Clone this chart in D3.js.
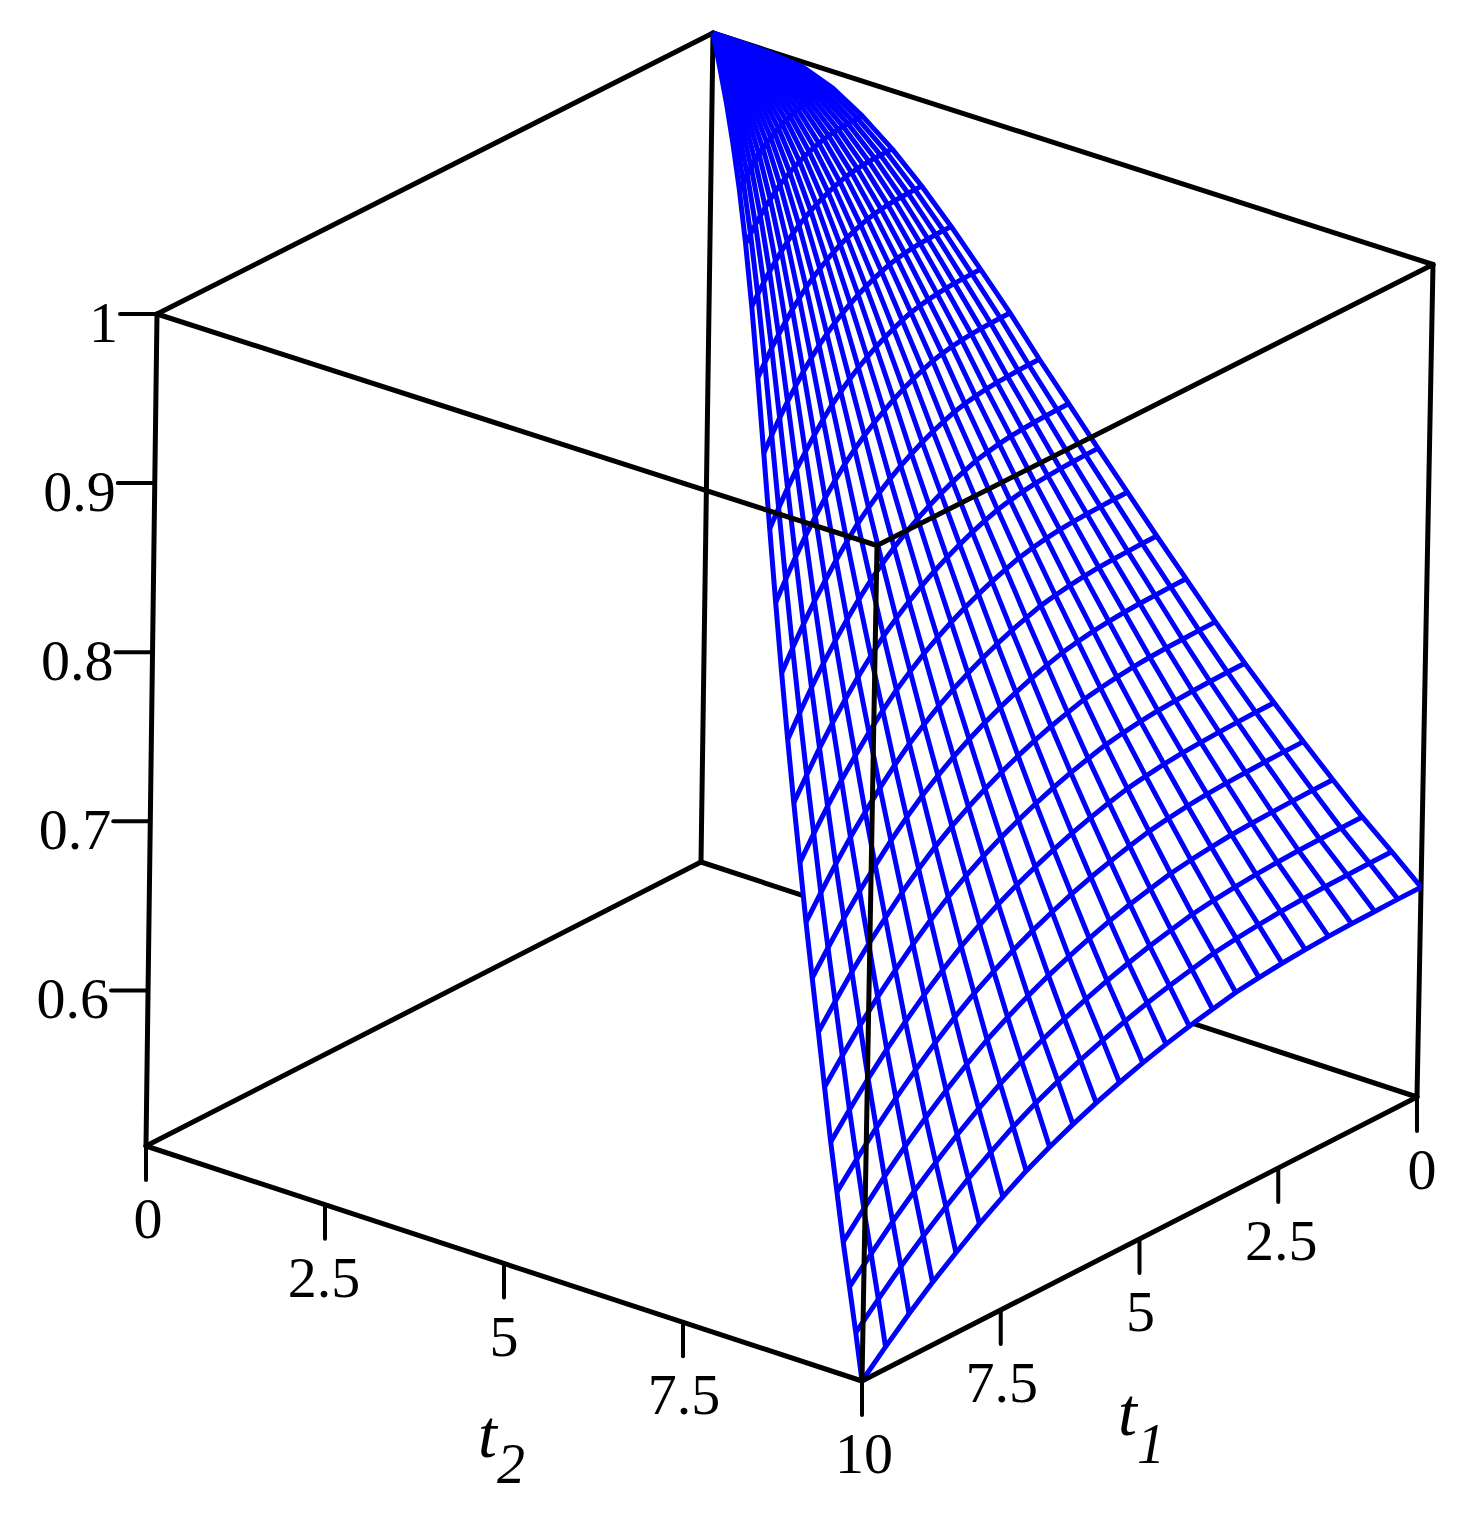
<!DOCTYPE html>
<html><head><meta charset="utf-8"><style>html,body{margin:0;background:#fff}svg{display:block}text{font-family:"Liberation Serif",serif;fill:#000}</style>
<script src="https://cdn.jsdelivr.net/npm/d3@7"></script></head><body><script>
// z values; rows run along t2 (0..10 in 24 steps), columns along t1/t2 (0..1 in 24 steps)
const surfaceZ=[
[1,1,1,1,1,1,1,1,1,1,1,1,1,1,1,1,1,1,1,1,1,1,1,1,1],
[.9998,.9998,.9998,.9998,.9997,.9997,.9996,.9995,.9994,.9993,.9991,.9989,.9986,.9984,.9981,.9977,.9974,.9970,.9965,.9959,.9954,.9948,.9941,.9934,.9926],
[.9990,.9990,.9990,.9989,.9989,.9988,.9986,.9985,.9982,.9979,.9975,.9971,.9966,.9961,.9955,.9948,.9940,.9932,.9922,.9911,.9900,.9887,.9873,.9859,.9843],
[.9970,.9970,.9969,.9969,.9968,.9966,.9964,.9961,.9957,.9952,.9946,.9939,.9931,.9922,.9912,.9901,.9889,.9875,.9859,.9841,.9822,.9801,.9779,.9755,.9729],
[.9902,.9902,.9901,.9900,.9899,.9897,.9894,.9890,.9885,.9878,.9870,.9861,.9850,.9838,.9825,.9810,.9794,.9776,.9754,.9731,.9705,.9678,.9648,.9616,.9582],
[.9793,.9793,.9792,.9791,.9789,.9786,.9783,.9778,.9772,.9762,.9752,.9740,.9727,.9712,.9695,.9676,.9655,.9632,.9605,.9575,.9542,.9507,.9469,.9428,.9385],
[.9656,.9655,.9654,.9653,.9651,.9648,.9643,.9637,.9629,.9617,.9604,.9589,.9572,.9553,.9532,.9508,.9481,.9452,.9417,.9379,.9338,.9294,.9246,.9194,.9139],
[.9493,.9492,.9491,.9489,.9487,.9483,.9477,.9469,.9459,.9444,.9428,.9409,.9388,.9364,.9337,.9307,.9274,.9237,.9193,.9146,.9094,.9039,.8978,.8913,.8844],
[.9311,.9310,.9309,.9306,.9303,.9298,.9291,.9282,.9270,.9252,.9232,.9209,.9184,.9154,.9122,.9086,.9045,.9000,.8947,.8890,.8827,.8760,.8687,.8607,.8524],
[.9114,.9113,.9111,.9109,.9105,.9099,.9091,.9080,.9067,.9046,.9023,.8997,.8967,.8933,.8896,.8854,.8806,.8755,.8694,.8627,.8554,.8477,.8392,.8300,.8204],
[.8913,.8912,.8910,.8907,.8903,.8897,.8888,.8875,.8860,.8837,.8811,.8782,.8748,.8710,.8668,.8622,.8569,.8510,.8442,.8368,.8286,.8200,.8105,.8002,.7894],
[.8696,.8695,.8693,.8689,.8685,.8679,.8669,.8656,.8639,.8614,.8587,.8555,.8519,.8479,.8434,.8384,.8327,.8265,.8191,.8112,.8024,.7932,.7830,.7720,.7604],
[.8490,.8489,.8487,.8483,.8478,.8472,.8461,.8447,.8430,.8404,.8375,.8341,.8303,.8261,.8214,.8161,.8101,.8035,.7958,.7874,.7782,.7684,.7576,.7460,.7338],
[.8283,.8282,.8279,.8276,.8271,.8264,.8253,.8239,.8221,.8194,.8164,.8129,.8090,.8046,.7997,.7942,.7880,.7813,.7733,.7646,.7551,.7449,.7339,.7218,.7092],
[.8081,.8080,.8077,.8074,.8069,.8062,.8051,.8036,.8018,.7990,.7959,.7924,.7884,.7839,.7789,.7734,.7670,.7601,.7520,.7431,.7334,.7230,.7118,.6995,.6866],
[.7879,.7878,.7875,.7872,.7867,.7859,.7848,.7833,.7815,.7786,.7755,.7719,.7678,.7632,.7582,.7525,.7460,.7390,.7307,.7216,.7117,.7012,.6896,.6771,.6640],
[.7683,.7682,.7679,.7676,.7671,.7663,.7652,.7637,.7618,.7590,.7558,.7522,.7481,.7435,.7384,.7327,.7262,.7191,.7108,.7017,.6917,.6811,.6696,.6570,.6438],
[.7486,.7485,.7482,.7479,.7474,.7466,.7455,.7440,.7422,.7393,.7362,.7326,.7285,.7239,.7188,.7131,.7067,.6996,.6913,.6823,.6723,.6618,.6503,.6377,.6246],
[.7299,.7298,.7295,.7291,.7286,.7279,.7268,.7253,.7234,.7205,.7174,.7138,.7096,.7050,.6999,.6941,.6876,.6805,.6721,.6630,.6530,.6424,.6308,.6181,.6049],
[.7122,.7121,.7118,.7114,.7109,.7102,.7090,.7075,.7056,.7027,.6995,.6958,.6916,.6869,.6817,.6759,.6693,.6620,.6535,.6443,.6341,.6233,.6115,.5987,.5852],
[.6950,.6949,.6946,.6942,.6937,.6930,.6918,.6903,.6884,.6855,.6823,.6787,.6745,.6698,.6646,.6588,.6522,.6450,.6366,.6273,.6172,.6064,.5947,.5819,.5685],
[.6782,.6781,.6778,.6774,.6769,.6762,.6750,.6735,.6716,.6687,.6656,.6619,.6577,.6530,.6479,.6420,.6355,.6283,.6198,.6106,.6005,.5897,.5780,.5652,.5518],
[.6620,.6619,.6616,.6613,.6608,.6600,.6589,.6574,.6556,.6527,.6496,.6460,.6419,.6373,.6322,.6265,.6201,.6130,.6047,.5957,.5857,.5752,.5637,.5511,.5380],
[.6472,.6471,.6468,.6465,.6460,.6452,.6441,.6426,.6408,.6379,.6348,.6313,.6272,.6226,.6176,.6119,.6055,.5984,.5901,.5811,.5712,.5607,.5493,.5368,.5237],
[.6320,.6319,.6316,.6313,.6308,.6300,.6289,.6274,.6256,.6227,.6196,.6160,.6119,.6073,.6022,.5965,.5901,.5830,.5747,.5657,.5557,.5452,.5337,.5211,.5080]
];
const tTicks=[0,2.5,5,7.5,10];
const tTickLabels=["0","2.5","5","7.5","10"];
const zTicks=[.6,.7,.8,.9,1];
const zTickLabels=["0.6","0.7","0.8","0.9","1"];
const zDomain=[.508,1];
const tDomain=[0,10];

const W=1472,H=1518;
const svg=d3.select("body").append("svg").attr("width",W).attr("height",H);
const u=d3.scaleLinear(tDomain,[0,1]),v=d3.scaleLinear(tDomain,[0,1]),wS=d3.scaleLinear(zDomain,[0,1]);
function P(t1,t2,z){const a=u(t1),b=v(t2),c=wS(z);return [701-555*a+716*b+c*(12-a+4*b),862+284*a+235*b-c*(829+3*a+3.5*b)];}
const line=d3.line();
function seg(g0,p,q,w){g0.append("path").attr("d",line([p,q])).attr("fill","none").attr("stroke","#000").attr("stroke-width",w).attr("stroke-linecap","round");}
const [zlo,zhi]=zDomain;
const back=svg.append("g");
[[[0,0,zlo],[10,0,zlo]],[[0,0,zlo],[0,10,zlo]],[[0,0,zlo],[0,0,zhi]],[[0,0,zhi],[10,0,zhi]],[[0,0,zhi],[0,10,zhi]],[[10,0,zlo],[10,0,zhi]],[[0,10,zlo],[0,10,zhi]]].forEach(s=>seg(back,P(...s[0]),P(...s[1]),5));
const n=surfaceZ.length-1;
const pt=(a,b)=>{const t2=a*10/n,t1=t2*b/n;return P(t1,t2,surfaceZ[a][b]);};
const ii=d3.range(n+1),cc=d3.range(n);
const cells=cc.flatMap(i=>cc.map(j=>[pt(i,j),pt(i+1,j),pt(i+1,j+1),pt(i,j+1)]));
svg.append("g").selectAll("path").data(cells).join("path").attr("d",c=>line(c)+"Z").attr("fill","#fff").attr("stroke","#fff").attr("stroke-width",1);
const wires=[...ii.map(a=>ii.map(b=>pt(a,b))),...ii.map(b=>ii.map(a=>pt(a,b)))];
svg.append("g").selectAll("path").data(wires).join("path").attr("d",line).attr("fill","none").attr("stroke","#0000ff").attr("stroke-width",5).attr("stroke-linejoin","round");
const front=svg.append("g");
[[[10,0,zlo],[10,10,zlo]],[[10,10,zlo],[0,10,zlo]],[[10,0,zhi],[10,10,zhi]],[[10,10,zhi],[0,10,zhi]],[[10,10,zlo],[10,10,zhi]]].forEach(s=>seg(front,P(...s[0]),P(...s[1]),5));
const dxT2=[2,-1,0,1,2],dxT1=[5,3,1,1];
tTicks.forEach((t,k)=>{const p=P(10,t,zlo);seg(front,p,[p[0],p[1]+34],4);front.append("text").attr("x",p[0]+dxT2[k]).attr("y",p[1]+92).attr("text-anchor","middle").attr("font-size",58).text(tTickLabels[k]);
 const q=P(t,10,zlo);if(t<10){seg(front,q,[q[0],q[1]+34],4);front.append("text").attr("x",q[0]+dxT1[k]).attr("y",q[1]+92).attr("text-anchor","middle").attr("font-size",58).text(tTickLabels[k]);}});
zTicks.forEach((t,k)=>{const p=P(10,0,t);seg(front,p,[p[0]-37,p[1]],4);front.append("text").attr("x",p[0]-39).attr("y",p[1]+28).attr("text-anchor","end").attr("font-size",58).text(zTickLabels[k]);});
front.append("text").attr("x",478).attr("y",1457).attr("font-size",68).attr("font-style","italic").text("t");
front.append("text").attr("x",497).attr("y",1483).attr("font-size",56).attr("font-style","italic").text("2");
front.append("text").attr("x",1118).attr("y",1435).attr("font-size",68).attr("font-style","italic").text("t");
front.append("text").attr("x",1137).attr("y",1463).attr("font-size",56).attr("font-style","italic").text("1");
</script></body></html>
